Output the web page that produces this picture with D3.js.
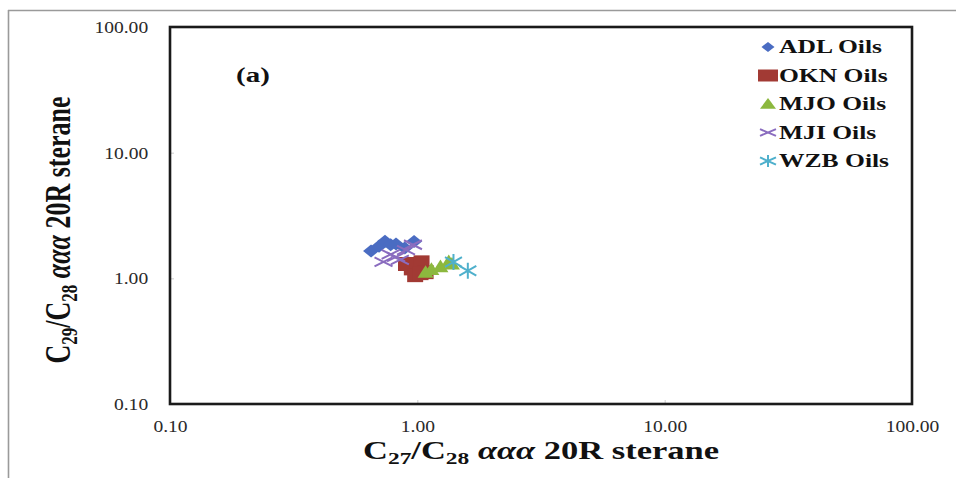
<!DOCTYPE html>
<html>
<head>
<meta charset="utf-8">
<script src="https://cdn.jsdelivr.net/npm/d3@7"></script>
<style>
  html, body { margin: 0; padding: 0; background: #fff; }
  svg { display: block; }
</style>
</head>
<body>
<svg id="chart" width="956" height="478"></svg>
<script>
// Sterane ratio cross-plot: C27/C28 vs C29/C28 ααα 20R sterane
const seriesNames = ["ADL Oils", "OKN Oils", "MJO Oils", "MJI Oils", "WZB Oils"];
const seriesColors = ["#4a6cc2", "#a23a34", "#8cb83e", "#8a6cbf", "#4fb0cc"];
const seriesShapes = ["diamond", "square", "triangle", "cross", "star"];

const adlX = [0.65, 0.70, 0.74, 0.78, 0.82, 0.89, 0.97];
const adlY = [1.65, 1.80, 1.97, 1.85, 1.88, 1.74, 1.96];
const oknX = [0.90, 0.95, 1.00, 1.04, 1.08, 0.98, 1.03];
const oknY = [1.30, 1.20, 1.28, 1.34, 1.12, 1.06, 1.10];
const mjoX = [1.08, 1.14, 1.24, 1.34, 1.38];
const mjoY = [1.12, 1.18, 1.24, 1.36, 1.30];
const mjiX = [0.73, 0.78, 0.82, 0.85, 0.90, 0.96];
const mjiY = [1.35, 1.55, 1.48, 1.40, 1.68, 1.85];
const wzbX = [1.40, 1.60];
const wzbY = [1.35, 1.15];

const xTicks = [0.1, 1, 10, 100];
const yTicks = [0.1, 1, 10, 100];

const series = [
  { x: adlX, y: adlY },
  { x: oknX, y: oknY },
  { x: mjoX, y: mjoY },
  { x: mjiX, y: mjiY },
  { x: wzbX, y: wzbY }
];

const svg = d3.select("#chart");
const plot = { left: 170, right: 912, top: 27, bottom: 404 };

// outer figure frame
svg.append("line").attr("x1", 8).attr("x2", 956).attr("y1", 10.5).attr("y2", 10.5)
  .attr("stroke", "#9a9a9a").attr("stroke-width", 1.6);
svg.append("line").attr("x1", 8.5).attr("x2", 8.5).attr("y1", 10).attr("y2", 478)
  .attr("stroke", "#9a9a9a").attr("stroke-width", 1.6);

const x = d3.scaleLog().domain([0.1, 100]).range([plot.left, plot.right]);
const y = d3.scaleLog().domain([0.1, 100]).range([plot.bottom, plot.top]);

const fmt = d3.format(".2f");
const serif = "'Liberation Serif', 'Times New Roman', serif";
const wide = 1.42; // horizontal stretch of the lettering

// axes: faint inner tick marks and labels
const xAxis = d3.axisBottom(x).tickValues(xTicks).tickFormat(fmt).tickSizeInner(-4).tickSizeOuter(0).tickPadding(12);
const yAxis = d3.axisLeft(y).tickValues(yTicks).tickFormat(fmt).tickSizeInner(-4).tickSizeOuter(0).tickPadding(19);

const gx = svg.append("g").attr("transform", `translate(0,${plot.bottom})`).call(xAxis);
const gy = svg.append("g").attr("transform", `translate(${plot.left},0)`).call(yAxis);
[gx, gy].forEach(g => {
  g.select(".domain").remove();
  g.selectAll(".tick line").attr("stroke", "#cccccc").attr("stroke-width", 1);
  g.selectAll(".tick text").attr("font-family", serif).attr("font-size", 17).attr("fill", "#2a2a2a")
    .attr("transform", "scale(1.15,1)");
});
gx.selectAll(".tick text").attr("dy", "0.95em");

// plot border
svg.append("rect")
  .attr("x", plot.left).attr("y", plot.top)
  .attr("width", plot.right - plot.left).attr("height", plot.bottom - plot.top)
  .attr("fill", "none").attr("stroke", "#1a1a1a").attr("stroke-width", 2.6);

// marker shapes (w: width, h: height)
function markerPath(shape, w, h) {
  const a = w / 2, b = h / 2;
  switch (shape) {
    case "diamond": return `M0,${-b}L${a},0L0,${b}L${-a},0Z`;
    case "square": return `M${-a},${-b}H${a}V${b}H${-a}Z`;
    case "triangle": return `M0,${-b}L${a},${b * 0.8}L${-a},${b * 0.8}Z`;
    case "cross": return `M${-a},${-b * 0.6}L${a},${b * 0.6}M${-a},${b * 0.6}L${a},${-b * 0.6}`;
    case "star": return `M${-a},${-b * 0.6}L${a},${b * 0.6}M${-a},${b * 0.6}L${a},${-b * 0.6}M0,${-b}L0,${b}`;
  }
}
function styleMarker(sel, i) {
  const shape = seriesShapes[i];
  if (shape === "cross" || shape === "star") {
    sel.attr("fill", "none").attr("stroke", seriesColors[i]).attr("stroke-width", 2);
  } else {
    sel.attr("fill", seriesColors[i]).attr("stroke", "none");
  }
}

const sizes = [[16, 13], [16, 14], [16, 14], [18, 15], [17, 16]];
series.forEach((s, i) => {
  const pts = s.x.map((v, k) => [v, s.y[k]]);
  svg.append("g").selectAll("path").data(pts).join("path")
    .attr("transform", d => `translate(${x(d[0])},${y(d[1])})`)
    .attr("d", markerPath(seriesShapes[i], sizes[i][0], sizes[i][1]))
    .call(styleMarker, i);
});

// stretched text helper
function wideText(parent, tx, ty, sx, rot) {
  return parent.append("text")
    .attr("transform", `translate(${tx},${ty}) scale(${sx},1)` + (rot ? ` rotate(${rot})` : ""))
    .attr("font-family", serif).attr("font-weight", "bold").attr("fill", "#111");
}

// panel label
wideText(svg, 236, 82, 1.45).attr("font-size", 20).text("(a)");

// legend
const legendMarker = [[13, 10], [20, 12], [16, 12], [16, 11], [16, 12]];
seriesNames.forEach((name, i) => {
  const ly = 47 + i * 28.5;
  svg.append("path")
    .attr("transform", `translate(768,${ly})`)
    .attr("d", markerPath(seriesShapes[i], legendMarker[i][0], legendMarker[i][1]))
    .call(styleMarker, i);
  wideText(svg, 779, ly + 6, wide).attr("font-size", 18).text(name);
});

// axis titles with subscripts
function titleSpans(t, a, b) {
  t.append("tspan").text("C");
  t.append("tspan").attr("dy", 5).attr("font-size", 17).text(a);
  t.append("tspan").attr("dy", -5).text("/C");
  t.append("tspan").attr("dy", 5).attr("font-size", 17).text(b);
  t.append("tspan").attr("dy", -5).text(" ");
  t.append("tspan").attr("font-style", "italic").text("ααα");
  t.append("tspan").text(" 20R sterane");
}
const xt = wideText(svg, 541, 459, 1.38).attr("font-size", 25).attr("text-anchor", "middle");
titleSpans(xt, "27", "28");

const yt = wideText(svg, 70, 230, 1.35, -90).attr("font-size", 26).attr("text-anchor", "middle");
titleSpans(yt, "29", "28");
</script>
</body>
</html>
